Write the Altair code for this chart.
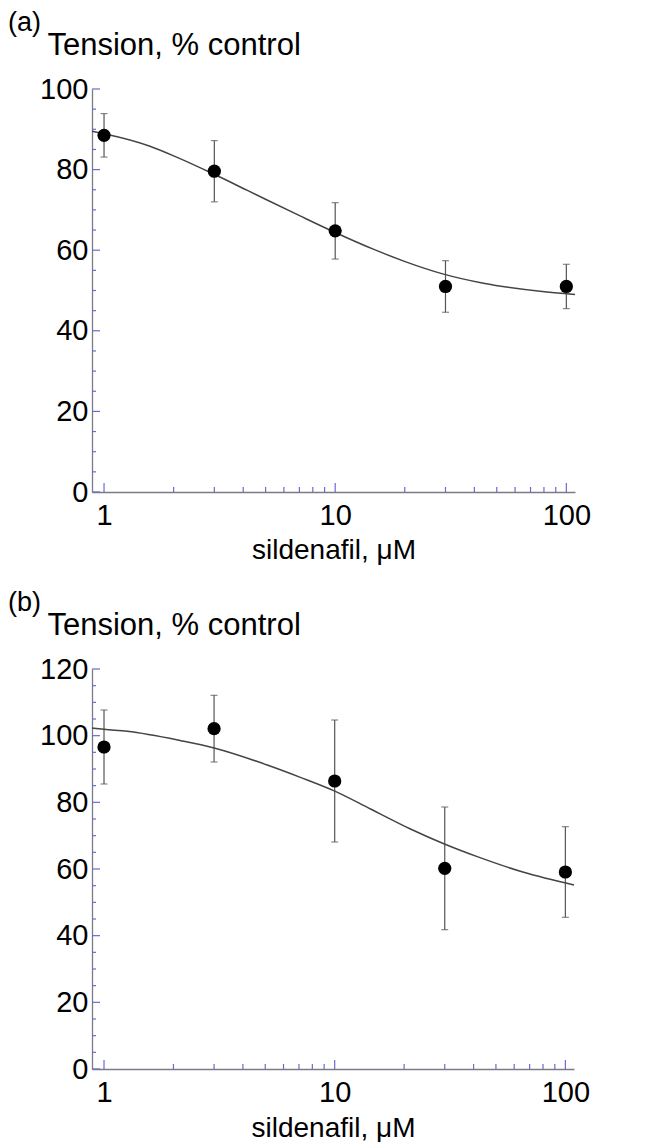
import altair as alt
import pandas as pd

# ---- data ----
conc = [1, 3, 10, 30, 100]

tension_a = [88.5, 79.6, 64.8, 51.0, 51.0]
err_a = [5.4, 7.6, 7.0, 6.4, 5.5]

tension_b = [96.6, 102.1, 86.4, 60.2, 59.1]
err_b = [11.1, 10.0, 18.3, 18.4, 13.6]

fit_x_a = [0.887, 1, 1.58, 2.06, 2.98, 4.15, 7.05, 10, 14.7, 19.8, 29.7, 43.8, 77, 109]
fit_y_a = [89.5, 88.9, 85.8, 83.1, 78.9, 74.9, 68.5, 64.4, 60.2, 57.3, 54.0, 51.8, 49.8, 49.0]

fit_x_b = [0.887, 1, 1.26, 2.15, 3.0, 5.1, 7.1, 9.9, 14.3, 21.3, 29.9, 41.5, 66, 109]
fit_y_b = [102.3, 101.9, 101.3, 98.5, 96.3, 91.2, 87.5, 83.5, 78.0, 72.0, 67.5, 63.7, 59.0, 55.2]

x_labels = [1, 10, 100]
x_minor = [2, 3, 4, 5, 6, 7, 8, 9, 20, 30, 40, 50, 60, 70, 80, 90]

y_major_a = [0, 20, 40, 60, 80, 100]
y_minor_a = [5, 10, 15, 25, 30, 35, 45, 50, 55, 65, 70, 75, 85, 90, 95]
y_major_b = [0, 20, 40, 60, 80, 100, 120]
y_minor_b = [5, 10, 15, 25, 30, 35, 45, 50, 55, 65, 70, 75, 85, 90, 95, 105, 110, 115]

x_domain = [0.887, 109]

FONT = "Liberation Sans"
TICK = "#6a6ad2"
DOMAIN = "#7b7b86"


def panel(tag, means, errs, fx, fy, y_major, y_minor, y_max, w, h, title_y_x):
    xscale = alt.Scale(type="log", domain=x_domain, nice=False)
    yscale = alt.Scale(domain=[0, y_max], nice=False, zero=True)
    xaxis = alt.Axis(values=x_labels, format="d", ticks=False, tickSize=0,
                     labelFontSize=29, labelFont=FONT, labelColor="black",
                     labelPadding=9, grid=False, domainColor=DOMAIN, domainWidth=1.3,
                     title="sildenafil, μM", titleFont=FONT, titleFontSize=28,
                     titleFontWeight="normal", titleColor="black",
                     titleBaseline="alphabetic", titleY=title_y_x)
    yaxis = alt.Axis(values=y_major, ticks=False, tickSize=0,
                     labelFontSize=29, labelFont=FONT, labelColor="black",
                     labelPadding=4, grid=False, domainColor=DOMAIN, domainWidth=1.3,
                     title="Tension, % control", titleFont=FONT, titleFontSize=31,
                     titleFontWeight="normal", titleColor="black", titleAngle=0,
                     titleAlign="left", titleBaseline="alphabetic",
                     titleX=-45, titleY=-35)

    def X(f):
        return alt.X(f, type="quantitative", scale=xscale, axis=xaxis)

    def Y(f):
        return alt.Y(f, type="quantitative", scale=yscale, axis=yaxis)

    pts = pd.DataFrame({
        "c": conc,
        "t": means,
        "lo": [m - e for m, e in zip(means, errs)],
        "hi": [m + e for m, e in zip(means, errs)],
    })
    fit = pd.DataFrame({"fx": fx, "fy": fy})

    ymaj = alt.Chart(pd.DataFrame({"v": y_major})).mark_rule(
        color=TICK, strokeWidth=1.2).encode(y=Y("v"), x=alt.value(0), x2=alt.value(8))
    ymin = alt.Chart(pd.DataFrame({"v": y_minor})).mark_rule(
        color=TICK, strokeWidth=1.2).encode(y=Y("v"), x=alt.value(0), x2=alt.value(4))
    xmaj = alt.Chart(pd.DataFrame({"v": x_labels})).mark_rule(
        color=TICK, strokeWidth=1.2).encode(x=X("v"), y=alt.value(h), y2=alt.value(h - 9))
    xmin = alt.Chart(pd.DataFrame({"v": x_minor})).mark_rule(
        color=TICK, strokeWidth=1.2).encode(x=X("v"), y=alt.value(h), y2=alt.value(h - 5))

    base = alt.Chart(pts)
    bars = base.mark_rule(color="#555555", strokeWidth=1.2).encode(
        x=X("c"), y=Y("lo"), y2="hi")
    cap_lo = base.mark_tick(orient="horizontal", size=7, thickness=1.2,
                            color="#555555").encode(x=X("c"), y=Y("lo"))
    cap_hi = base.mark_tick(orient="horizontal", size=7, thickness=1.2,
                            color="#555555").encode(x=X("c"), y=Y("hi"))
    curve = alt.Chart(fit).mark_line(color="#444444", strokeWidth=1.5,
                                     interpolate="monotone").encode(
        x=X("fx"), y=Y("fy"))
    dots = base.mark_circle(size=175, color="black", opacity=1).encode(
        x=X("c"), y=Y("t"))

    return alt.layer(ymin, ymaj, xmin, xmaj, bars, cap_lo, cap_hi, curve, dots).properties(
        width=w, height=h,
        title=alt.TitleParams(tag, anchor="start", frame="group", dx=-84,
                              font=FONT, fontSize=27, fontWeight="normal",
                              color="black", offset=-8),
    )


pa = panel("(a)", tension_a, err_a, fit_x_a, fit_y_a, y_major_a, y_minor_a, 100, 483, 403, 66)
pb = panel("(b)", tension_b, err_b, fit_x_b, fit_y_b, y_major_b, y_minor_b, 120, 482, 400, 67)

chart = alt.vconcat(pa, pb, spacing=25).properties(
    padding={"top": 1, "left": 0, "right": 0, "bottom": 0},
    background="white").configure_view(stroke=None)

chart.save("out.html", embed_options={"renderer": "svg", "actions": False})
